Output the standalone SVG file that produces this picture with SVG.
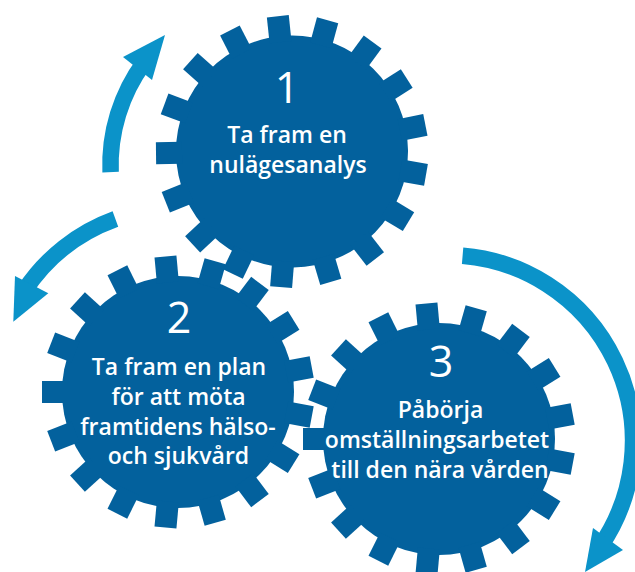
<svg xmlns="http://www.w3.org/2000/svg" width="635" height="572" viewBox="0 0 635 572">
  <style>
    .gear { fill: #03619d; }
    .num { font-family: "Open Sans", "Liberation Sans", sans-serif; font-size: 43px; font-weight: 400; fill: #ffffff; text-anchor: middle; }
    .lbl { font-family: "Open Sans", "Liberation Sans", sans-serif; font-size: 23px; font-weight: 600; fill: #ffffff; text-anchor: middle; }
    .arc { fill: none; stroke: #0b93c9; stroke-width: 16.5; stroke-linecap: butt; }
    .head { fill: #0b93c9; }
  </style>
  <defs>
    <g id="gearShape">
      <circle r="116"/>
      <rect x="-11" y="-136" width="22" height="26" transform="rotate(-90)"/>
      <rect x="-11" y="-136" width="22" height="26" transform="rotate(-68.82)"/>
      <rect x="-11" y="-136" width="22" height="26" transform="rotate(-47.65)"/>
      <rect x="-11" y="-136" width="22" height="26" transform="rotate(-26.47)"/>
      <rect x="-11" y="-136" width="22" height="26" transform="rotate(-5.29)"/>
      <rect x="-11" y="-136" width="22" height="26" transform="rotate(15.88)"/>
      <rect x="-11" y="-136" width="22" height="26" transform="rotate(37.06)"/>
      <rect x="-11" y="-136" width="22" height="26" transform="rotate(58.24)"/>
      <rect x="-11" y="-136" width="22" height="26" transform="rotate(79.41)"/>
      <rect x="-11" y="-136" width="22" height="26" transform="rotate(100.59)"/>
      <rect x="-11" y="-136" width="22" height="26" transform="rotate(121.76)"/>
      <rect x="-11" y="-136" width="22" height="26" transform="rotate(142.94)"/>
      <rect x="-11" y="-136" width="22" height="26" transform="rotate(164.12)"/>
      <rect x="-11" y="-136" width="22" height="26" transform="rotate(185.29)"/>
      <rect x="-11" y="-136" width="22" height="26" transform="rotate(206.47)"/>
      <rect x="-11" y="-136" width="22" height="26" transform="rotate(227.65)"/>
      <rect x="-11" y="-136" width="22" height="26" transform="rotate(248.82)"/>
    </g>
  </defs>

  <g id="connectors">
    <g id="arrow-1-to-3">
      <path class="arc" d="M110.6,172.2 A173,173 0 0 1 144.4,62.1"/>
      <polygon class="head" points="123,57 165,35 152,80"/>
    </g>
    <g id="arrow-1-to-2">
      <path class="arc" d="M115.4,219 A184,184 0 0 0 24.2,291"/>
      <polygon class="head" points="15,276 48.3,293.3 13.3,321.7"/>
    </g>
    <g id="arrow-3-down">
      <path class="arc" d="M462.6,255.7 A186,186 0 0 1 600.5,546.1"/>
      <polygon class="head" points="593,528 623,550 585,572"/>
    </g>
  </g>

  <g id="gear1">
    <use href="#gearShape" class="gear" transform="translate(292,151.5) rotate(-0.7)"/>
    <text class="num" x="287" y="103">1</text>
    <text class="lbl" x="287" y="143">Ta fram en</text>
    <text class="lbl" x="288" y="173">nulägesanalys</text>
  </g>

  <g id="gear2">
    <use href="#gearShape" class="gear" transform="translate(178,392)"/>
    <text class="num" x="179" y="333">2</text>
    <text class="lbl" x="179" y="375">Ta fram en plan</text>
    <text class="lbl" x="178.5" y="405">för att möta</text>
    <text class="lbl" x="178" y="435">framtidens hälso-</text>
    <text class="lbl" x="178.5" y="464">och sjukvård</text>
  </g>

  <g id="gear3">
    <use href="#gearShape" class="gear" transform="translate(439,439)"/>
    <text class="num" x="441" y="377">3</text>
    <text class="lbl" x="440.5" y="418">Påbörja</text>
    <text class="lbl" x="437" y="448">omställningsarbetet</text>
    <text class="lbl" x="440" y="478">till den nära vården</text>
  </g>
</svg>
